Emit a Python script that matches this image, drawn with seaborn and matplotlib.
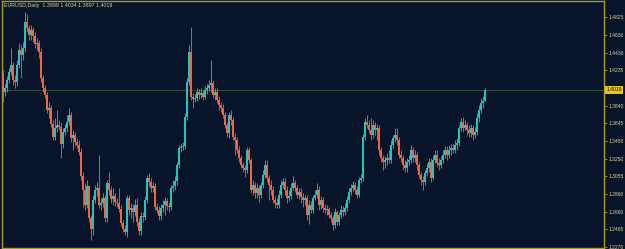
import numpy as np
import pandas as pd
import matplotlib
matplotlib.use("Agg")
import matplotlib.pyplot as plt
import matplotlib.transforms as mtransforms
import seaborn as sns

title = "EURUSD,Daily  1.3899 1.4034 1.3897 1.4019"
last_price = 1.4019
tick_values = [1.4825, 1.4630, 1.4430, 1.4235, 1.3840, 1.3645, 1.3450,
               1.3250, 1.3055, 1.2860, 1.2660, 1.2465, 1.2270]

opens = [1.4172, 1.3994, 1.4039, 1.4128, 1.4217, 1.4295, 1.4128, 1.4105, 1.4295, 1.4462,
         1.4406, 1.4484, 1.4773, 1.4706, 1.4628, 1.4684, 1.4617, 1.4528, 1.4539, 1.4439,
         1.4150, 1.4039, 1.3961, 1.3794, 1.3816, 1.3638, 1.3493, 1.3593, 1.3627, 1.3604,
         1.3415, 1.3549, 1.3593, 1.3660, 1.3738, 1.3482, 1.3515, 1.3438, 1.3404, 1.3326,
         1.3059, 1.2903, 1.2736, 1.2948, 1.2592, 1.2469, 1.2792, 1.2903, 1.2925, 1.2736,
         1.2759, 1.2814, 1.2592, 1.2981, 1.2903, 1.2803, 1.2836, 1.2770, 1.2759, 1.2692,
         1.2536, 1.2469, 1.2436, 1.2814, 1.2681, 1.2703, 1.2658, 1.2736, 1.2547, 1.2447,
         1.2614, 1.2603, 1.2792, 1.3037, 1.2992, 1.2925, 1.2948, 1.2714, 1.2681, 1.2614,
         1.2703, 1.2736, 1.2781, 1.2725, 1.2714, 1.2925, 1.2948, 1.3003, 1.3181, 1.3371,
         1.3382, 1.3393, 1.3716, 1.4105, 1.4439, 1.3938, 1.3916, 1.3927, 1.3994, 1.3961,
         1.3983, 1.3938, 1.4016, 1.4039, 1.4072, 1.4094, 1.3961, 1.3994, 1.3905, 1.3849,
         1.3816, 1.3738, 1.3627, 1.3538, 1.3738, 1.3682, 1.3493, 1.3460, 1.3349, 1.3259,
         1.3181, 1.3148, 1.3126, 1.3349, 1.3237, 1.2903, 1.2959, 1.2870, 1.2925, 1.2847,
         1.2959, 1.3070, 1.3181, 1.3037, 1.2959, 1.2903, 1.2792, 1.2759, 1.2736, 1.2847,
         1.2959, 1.2992, 1.2903, 1.2814, 1.2836, 1.2925, 1.2981, 1.2925, 1.2847, 1.2881,
         1.2825, 1.2792, 1.2814, 1.2625, 1.2736, 1.2681, 1.2814, 1.2847, 1.2903, 1.2736,
         1.2792, 1.2703, 1.2681, 1.2692, 1.2625, 1.2592, 1.2514, 1.2658, 1.2547, 1.2625,
         1.2681, 1.2658, 1.2703, 1.2792, 1.2881, 1.2925, 1.2959, 1.2903, 1.2847, 1.3014,
         1.3037, 1.3493, 1.3660, 1.3627, 1.3571, 1.3515, 1.3627, 1.3571, 1.3593, 1.3349,
         1.3259, 1.3215, 1.3237, 1.3259, 1.3237, 1.3404, 1.3482, 1.3515, 1.3460, 1.3293,
         1.3259, 1.3181, 1.3148, 1.3215, 1.3237, 1.3349, 1.3259, 1.3293, 1.3181, 1.3070,
         1.3014, 1.2992, 1.3092, 1.3148, 1.3215, 1.3037, 1.3237, 1.3293, 1.3204, 1.3181,
         1.3237, 1.3293, 1.3349, 1.3293, 1.3349, 1.3371, 1.3349, 1.3404, 1.3426, 1.3593,
         1.3660, 1.3593, 1.3627, 1.3571, 1.3538, 1.3593, 1.3515, 1.3549, 1.3705, 1.3794,
         1.3872, 1.3899]

highs = [1.4239, 1.4083, 1.4172, 1.4261, 1.4484, 1.4328, 1.4183, 1.4350, 1.4539, 1.4517,
         1.4551, 1.4884, 1.4862, 1.4740, 1.4740, 1.4717, 1.4662, 1.4595, 1.4573, 1.4484,
         1.4183, 1.4072, 1.3994, 1.3883, 1.3849, 1.3682, 1.3705, 1.3794, 1.3682, 1.3660,
         1.3593, 1.3638, 1.3738, 1.3816, 1.3771, 1.3571, 1.3549, 1.3482, 1.3460, 1.3371,
         1.3103, 1.2981, 1.3014, 1.2959, 1.2625, 1.2847, 1.2959, 1.2992, 1.3293, 1.2814,
         1.2870, 1.2847, 1.3014, 1.3103, 1.2948, 1.2925, 1.2870, 1.2814, 1.2925, 1.2736,
         1.2569, 1.2514, 1.2847, 1.2847, 1.2759, 1.2747, 1.2803, 1.2814, 1.2592, 1.2658,
         1.2658, 1.2836, 1.3070, 1.3092, 1.3037, 1.2992, 1.2981, 1.2759, 1.2725, 1.2747,
         1.2792, 1.2825, 1.2814, 1.2770, 1.2959, 1.3014, 1.3059, 1.3215, 1.3404, 1.3426,
         1.3438, 1.3760, 1.4150, 1.4517, 1.4717, 1.3983, 1.3972, 1.4039, 1.4027, 1.4039,
         1.4016, 1.4061, 1.4083, 1.4128, 1.4350, 1.4128, 1.4039, 1.4039, 1.3950, 1.3883,
         1.3860, 1.3771, 1.3660, 1.3771, 1.3794, 1.3716, 1.3538, 1.3493, 1.3393, 1.3293,
         1.3215, 1.3181, 1.3382, 1.3382, 1.3259, 1.3014, 1.2992, 1.2981, 1.2959, 1.2992,
         1.3126, 1.3237, 1.3237, 1.3070, 1.3014, 1.2948, 1.2836, 1.2814, 1.2903, 1.3014,
         1.3037, 1.3037, 1.2948, 1.2903, 1.2981, 1.3059, 1.3014, 1.2959, 1.2925, 1.2925,
         1.2870, 1.2847, 1.2847, 1.2792, 1.2781, 1.2847, 1.2903, 1.2981, 1.2948, 1.2836,
         1.2825, 1.2747, 1.2736, 1.2714, 1.2658, 1.2625, 1.2703, 1.2681, 1.2658, 1.2736,
         1.2725, 1.2759, 1.2836, 1.2925, 1.2970, 1.3003, 1.2992, 1.2948, 1.3048, 1.3081,
         1.3526, 1.3705, 1.3738, 1.3682, 1.3705, 1.3682, 1.3660, 1.3638, 1.3627, 1.3382,
         1.3293, 1.3282, 1.3315, 1.3349, 1.3460, 1.3515, 1.3593, 1.3593, 1.3493, 1.3349,
         1.3293, 1.3237, 1.3259, 1.3293, 1.3404, 1.3382, 1.3349, 1.3326, 1.3215, 1.3103,
         1.3059, 1.3126, 1.3204, 1.3259, 1.3259, 1.3293, 1.3349, 1.3349, 1.3259, 1.3282,
         1.3349, 1.3393, 1.3393, 1.3404, 1.3415, 1.3415, 1.3460, 1.3482, 1.3627, 1.3705,
         1.3716, 1.3682, 1.3660, 1.3627, 1.3638, 1.3627, 1.3604, 1.3760, 1.3849, 1.3927,
         1.3950, 1.4034]

lows = [1.3883, 1.3950, 1.3994, 1.4094, 1.4183, 1.4072, 1.4039, 1.4061, 1.4261, 1.4150,
        1.4350, 1.4439, 1.4662, 1.4573, 1.4573, 1.4551, 1.4484, 1.4462, 1.4372, 1.4105,
        1.3994, 1.3927, 1.3760, 1.3705, 1.3604, 1.3460, 1.3460, 1.3549, 1.3571, 1.3259,
        1.3371, 1.3515, 1.3549, 1.3627, 1.3438, 1.3349, 1.3393, 1.3371, 1.3293, 1.3014,
        1.2714, 1.2681, 1.2703, 1.2547, 1.2347, 1.2402, 1.2759, 1.2836, 1.2703, 1.2681,
        1.2714, 1.2547, 1.2547, 1.2847, 1.2759, 1.2736, 1.2725, 1.2714, 1.2658, 1.2503,
        1.2436, 1.2402, 1.2380, 1.2625, 1.2592, 1.2547, 1.2614, 1.2503, 1.2402, 1.2402,
        1.2547, 1.2569, 1.2759, 1.2948, 1.2881, 1.2881, 1.2681, 1.2647, 1.2569, 1.2569,
        1.2658, 1.2625, 1.2681, 1.2658, 1.2681, 1.2881, 1.2903, 1.2959, 1.3148, 1.3326,
        1.3349, 1.3360, 1.3682, 1.4072, 1.3905, 1.3816, 1.3883, 1.3894, 1.3916, 1.3927,
        1.3905, 1.3916, 1.3972, 1.4005, 1.3994, 1.3927, 1.3905, 1.3872, 1.3794, 1.3771,
        1.3705, 1.3593, 1.3493, 1.3482, 1.3627, 1.3460, 1.3293, 1.3315, 1.3215, 1.3148,
        1.3103, 1.3048, 1.3092, 1.3204, 1.2870, 1.2847, 1.2814, 1.2814, 1.2770, 1.2814,
        1.2925, 1.3037, 1.2992, 1.2792, 1.2847, 1.2759, 1.2703, 1.2703, 1.2703, 1.2814,
        1.2925, 1.2847, 1.2759, 1.2781, 1.2803, 1.2903, 1.2881, 1.2814, 1.2803, 1.2759,
        1.2714, 1.2736, 1.2569, 1.2525, 1.2647, 1.2647, 1.2792, 1.2814, 1.2681, 1.2692,
        1.2658, 1.2647, 1.2625, 1.2592, 1.2547, 1.2458, 1.2480, 1.2514, 1.2514, 1.2592,
        1.2614, 1.2625, 1.2670, 1.2759, 1.2847, 1.2892, 1.2859, 1.2814, 1.2825, 1.2981,
        1.3003, 1.3460, 1.3593, 1.3538, 1.3460, 1.3482, 1.3515, 1.3460, 1.3293, 1.3215,
        1.3126, 1.3148, 1.3181, 1.3204, 1.3204, 1.3371, 1.3438, 1.3404, 1.3259, 1.3215,
        1.3126, 1.3103, 1.3103, 1.3181, 1.3204, 1.3215, 1.3215, 1.3126, 1.3037, 1.2959,
        1.2903, 1.2959, 1.3059, 1.3103, 1.2992, 1.3014, 1.3204, 1.3159, 1.3126, 1.3148,
        1.3204, 1.3259, 1.3237, 1.3259, 1.3293, 1.3315, 1.3315, 1.3349, 1.3393, 1.3560,
        1.3549, 1.3571, 1.3515, 1.3493, 1.3493, 1.3460, 1.3482, 1.3515, 1.3660, 1.3760,
        1.3816, 1.3897]

closes = [1.3994, 1.4039, 1.4128, 1.4217, 1.4295, 1.4128, 1.4105, 1.4295, 1.4462, 1.4406,
          1.4484, 1.4773, 1.4706, 1.4628, 1.4684, 1.4617, 1.4528, 1.4539, 1.4439, 1.4150,
          1.4039, 1.3961, 1.3794, 1.3816, 1.3638, 1.3493, 1.3593, 1.3627, 1.3604, 1.3415,
          1.3549, 1.3593, 1.3660, 1.3738, 1.3482, 1.3515, 1.3438, 1.3404, 1.3326, 1.3059,
          1.2903, 1.2736, 1.2948, 1.2592, 1.2469, 1.2792, 1.2903, 1.2925, 1.2736, 1.2759,
          1.2814, 1.2592, 1.2981, 1.2903, 1.2803, 1.2836, 1.2770, 1.2759, 1.2692, 1.2536,
          1.2469, 1.2436, 1.2814, 1.2681, 1.2703, 1.2658, 1.2736, 1.2547, 1.2447, 1.2614,
          1.2603, 1.2792, 1.3037, 1.2992, 1.2925, 1.2948, 1.2714, 1.2681, 1.2614, 1.2703,
          1.2736, 1.2781, 1.2725, 1.2714, 1.2925, 1.2948, 1.3003, 1.3181, 1.3371, 1.3382,
          1.3393, 1.3716, 1.4105, 1.4439, 1.3938, 1.3916, 1.3927, 1.3994, 1.3961, 1.3983,
          1.3938, 1.4016, 1.4039, 1.4072, 1.4094, 1.3961, 1.3994, 1.3905, 1.3849, 1.3816,
          1.3738, 1.3627, 1.3538, 1.3738, 1.3682, 1.3493, 1.3460, 1.3349, 1.3259, 1.3181,
          1.3148, 1.3126, 1.3349, 1.3237, 1.2903, 1.2959, 1.2870, 1.2925, 1.2847, 1.2959,
          1.3070, 1.3181, 1.3037, 1.2959, 1.2903, 1.2792, 1.2759, 1.2736, 1.2847, 1.2959,
          1.2992, 1.2903, 1.2814, 1.2836, 1.2925, 1.2981, 1.2925, 1.2847, 1.2881, 1.2825,
          1.2792, 1.2814, 1.2625, 1.2736, 1.2681, 1.2814, 1.2847, 1.2903, 1.2736, 1.2792,
          1.2703, 1.2681, 1.2692, 1.2625, 1.2592, 1.2514, 1.2658, 1.2547, 1.2625, 1.2681,
          1.2658, 1.2703, 1.2792, 1.2881, 1.2925, 1.2959, 1.2903, 1.2847, 1.3014, 1.3037,
          1.3493, 1.3660, 1.3627, 1.3571, 1.3515, 1.3627, 1.3571, 1.3593, 1.3349, 1.3259,
          1.3215, 1.3237, 1.3259, 1.3237, 1.3404, 1.3482, 1.3515, 1.3460, 1.3293, 1.3259,
          1.3181, 1.3148, 1.3215, 1.3237, 1.3349, 1.3259, 1.3293, 1.3181, 1.3070, 1.3014,
          1.2992, 1.3092, 1.3148, 1.3215, 1.3037, 1.3237, 1.3293, 1.3204, 1.3181, 1.3237,
          1.3293, 1.3349, 1.3293, 1.3349, 1.3371, 1.3349, 1.3404, 1.3426, 1.3593, 1.3660,
          1.3593, 1.3627, 1.3571, 1.3538, 1.3593, 1.3515, 1.3549, 1.3705, 1.3794, 1.3872,
          1.3899, 1.4019]

BG = "#07142a"
FRAME = "#a69c1f"
TXT = "#d8d39a"
UP = "#22c4bd"
DOWN = "#f2653f"
HLINE = "#2c4a36"

sns.set_style("dark", {"axes.facecolor": BG, "figure.facecolor": BG,
                       "axes.edgecolor": FRAME})
plt.rcParams["font.family"] = ["Liberation Sans", "DejaVu Sans"]

df = pd.DataFrame({"open": opens, "high": highs, "low": lows, "close": closes})
df["idx"] = np.arange(len(df))
df["up"] = df["close"] >= df["open"]
df["color"] = np.where(df["up"], UP, DOWN)
df["body_lo"] = df[["open", "close"]].min(axis=1)
df["body_h"] = (df["close"] - df["open"]).abs()

fig = plt.figure(figsize=(6.25, 2.49), dpi=100)
ax = fig.add_axes([2 / 625, 1 / 249, 602 / 625, 247 / 249])
ax.set_facecolor(BG)

ax.axhline(last_price, color=HLINE, lw=0.9, zorder=1)
ax.vlines(df["idx"], df["low"], df["high"], colors=df["color"], lw=0.6, zorder=2)
ax.bar(df["idx"], np.maximum(df["body_h"], 0.0007), bottom=df["body_lo"],
       width=0.85, color=df["color"], linewidth=0, zorder=3)

ax.set_xlim(-0.5, 300.5)
ax.set_ylim(1.2258, 1.5007)
ax.set_xticks([])
ax.yaxis.tick_right()
ax.set_yticks(tick_values)
ax.set_yticklabels([f"{v:.4f}" for v in tick_values])
ax.tick_params(axis="y", which="both", right=True, left=False, length=2,
               width=0.6, color=FRAME, labelsize=3.6, labelcolor=TXT, pad=1.5)
ax.grid(False)
for s in ax.spines.values():
    s.set_visible(True)
    s.set_color(FRAME)
    s.set_linewidth(1.0)

trans = mtransforms.blended_transform_factory(ax.transAxes, ax.transData)
ax.text(1.004, last_price, f"{last_price:.4f}", transform=trans, ha="left",
        va="center", fontsize=3.6, color="#101010",
        bbox=dict(boxstyle="square,pad=0.25", fc="#e8c51a", ec="none"), zorder=5)

fig.text(4 / 625, 1 - 6 / 249, title, fontsize=3.8, color=TXT, va="center", ha="left")

fig.savefig("out.png", dpi=100, facecolor=BG)
